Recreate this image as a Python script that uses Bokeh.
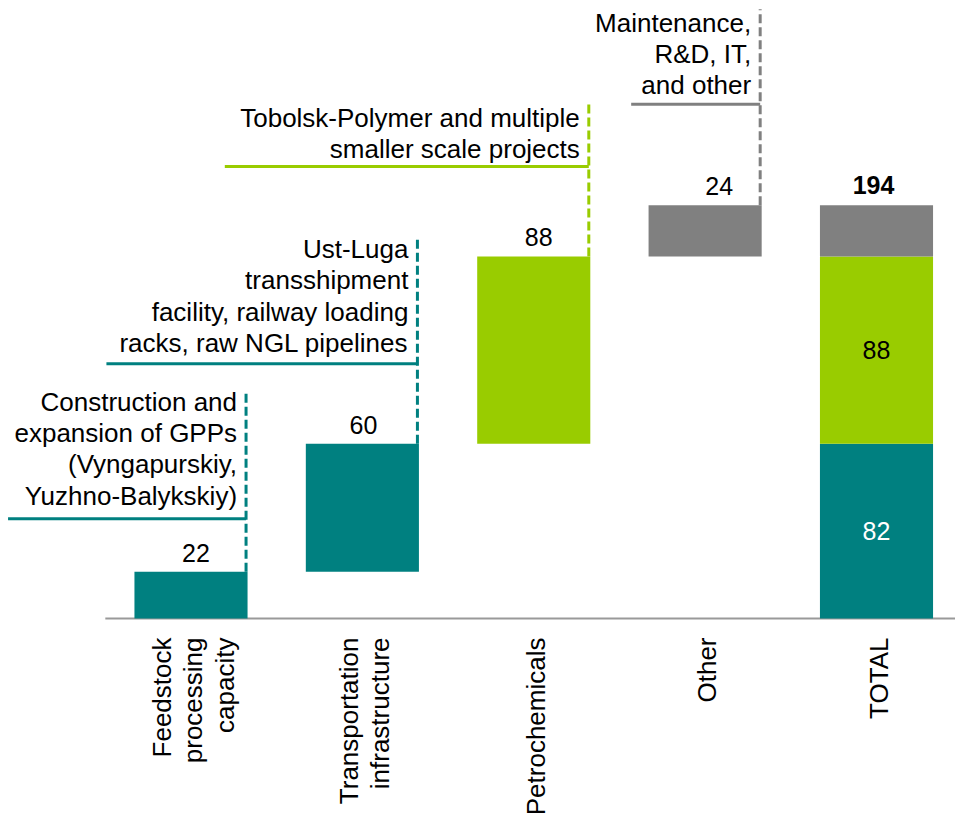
from bokeh.plotting import figure
from bokeh.models import Range1d
from bokeh.core.properties import value
from bokeh.embed import file_html
from bokeh.resources import INLINE

# ---------------- data ----------------
category_labels = [
    "Feedstock\nprocessing\ncapacity",
    "Transportation\ninfrastructure",
    "Petrochemicals",
    "Other",
    "TOTAL",
]
increments = [22, 60, 88, 24]
increment_groups = ["core", "core", "petchem", "other"]
total_label = "194"
annotation_texts = [
    "Construction and\nexpansion of GPPs\n(Vyngapurskiy,\nYuzhno-Balykskiy)",
    "Ust-Luga\ntransshipment\nfacility, railway loading\nracks, raw NGL pipelines",
    "Tobolsk-Polymer and multiple\nsmaller scale projects",
    "Maintenance,\nR&D, IT,\nand other",
]

# ---------------- layout / style ----------------
COLORS = {"core": "#008080", "petchem": "#99CC00", "other": "#808080"}
FONT = "Liberation Sans"
W, H = 955, 816
PX_PER_CAT = 171.375
PX_PER_UNIT = 2.13
X0_PX = 190.5          # figure-left to first category centre
Y0_PX = 618            # figure-top to baseline
BAR_W = 0.66
LINE_PX = 31           # annotation line spacing
ann_rise_px = [53, 80, 90, 101]      # horizontal leader above bar top
ann_arm_px = [238, 311, 364, 129]    # horizontal leader length
ann_text_dy = [-8, -6, -2, -4]
label_dx_px = [5, 1, 5, 14]

x_start = -X0_PX / PX_PER_CAT
x_end = x_start + W / PX_PER_CAT
y_end = Y0_PX / PX_PER_UNIT
y_start = -(H - Y0_PX) / PX_PER_UNIT

p = figure(width=W, height=H, x_range=Range1d(x_start, x_end),
           y_range=Range1d(y_start, y_end), output_backend="svg",
           toolbar_location=None, x_axis_type=None, y_axis_type=None,
           min_border=0)
p.grid.visible = False
p.outline_line_color = None
p.background_fill_color = "white"
p.border_fill_color = "white"

n = len(increments)
idx = list(range(n))
bottoms, tops = [], []
acc = 0
for v in increments:
    bottoms.append(acc)
    acc += v
    tops.append(acc)
total_idx = n
colors = [COLORS[g] for g in increment_groups]

# baseline
p.segment(x0=[-0.5], y0=[0], x1=[x_end], y1=[0], line_color="#999999", line_width=2)

# waterfall bars
p.vbar(x=idx, bottom=bottoms, top=tops, width=BAR_W, fill_color=colors, line_color=None)

# total stacked bar, grouped by colour
groups = []
for g in increment_groups:
    if g not in groups:
        groups.append(g)
tb, tt, tc, tv = [], [], [], []
acc = 0
for g in groups:
    s = sum(v for v, gg in zip(increments, increment_groups) if gg == g)
    tb.append(acc); tt.append(acc + s); tc.append(COLORS[g]); tv.append(s)
    acc += s
p.vbar(x=[total_idx] * len(groups), bottom=tb, top=tt, width=BAR_W,
       fill_color=tc, line_color=None)

# labels inside total bar (skip the thin top segment)
inner_x, inner_y, inner_t, inner_c = [], [], [], []
for b, t, v, g in zip(tb, tt, tv, groups):
    if g == "other":
        continue
    inner_x.append(total_idx); inner_y.append((b + t) / 2)
    inner_t.append(str(v)); inner_c.append("white" if g == "core" else "black")
p.text(x=inner_x, y=inner_y, text=inner_t, text_color=inner_c,
       text_font=value(FONT), text_font_size="25px",
       text_align="center", text_baseline="middle")

# value labels above waterfall bars
for i in idx:
    p.text(x=[i], y=[tops[i]], text=[str(increments[i])], text_color="black",
           text_font=value(FONT), text_font_size="25px", x_offset=label_dx_px[i],
           y_offset=-10, text_align="center", text_baseline="bottom")
p.text(x=[total_idx], y=[tt[-1]], text=[total_label], text_color="black",
       text_font=value(FONT), text_font_size="25px", text_font_style="bold",
       x_offset=-3, y_offset=-11, text_align="center", text_baseline="bottom")

# annotations
for i in idx:
    c = colors[i]
    xr = i + BAR_W / 2 - 1.5 / PX_PER_CAT
    hy = tops[i] + ann_rise_px[i] / PX_PER_UNIT
    nlines = annotation_texts[i].count("\n") + 1
    top_y = hy + (nlines * LINE_PX + 2) / PX_PER_UNIT
    xl = xr - ann_arm_px[i] / PX_PER_CAT
    p.segment(x0=[xr], y0=[tops[i]], x1=[xr], y1=[top_y], line_color=c,
              line_width=3, line_dash="9 4")
    p.segment(x0=[xl], y0=[hy], x1=[xr], y1=[hy], line_color=c, line_width=3)
    p.text(x=[xr], y=[hy], text=[annotation_texts[i]], text_color="black",
           text_font=value(FONT), text_font_size="26px", text_line_height=1.04,
           x_offset=-9, y_offset=ann_text_dy[i], text_align="right",
           text_baseline="bottom")

# category labels (rotated)
p.text(x=list(range(len(category_labels))), y=[0] * len(category_labels),
       text=category_labels, angle=1.5708, text_color="black",
       text_font=value(FONT), text_font_size="26px", text_line_height=1.05,
       x_offset=2, y_offset=19, text_align="right", text_baseline="middle")

open("out.html", "w").write(file_html(p, INLINE))
